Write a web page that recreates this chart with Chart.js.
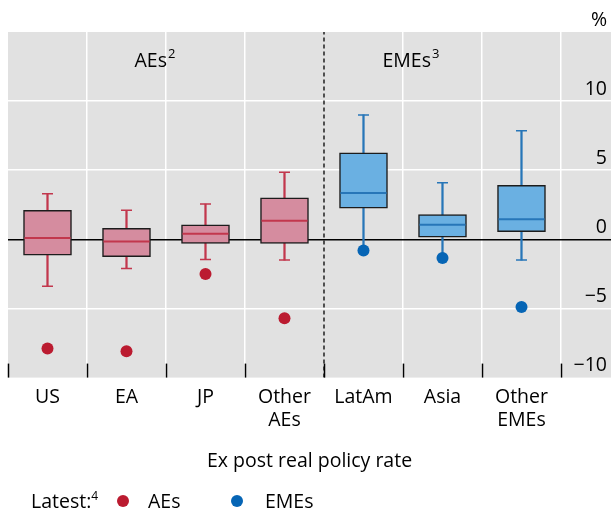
<!DOCTYPE html>
<html>
<head>
<meta charset="utf-8">
<script src="https://cdn.jsdelivr.net/npm/chart.js@4/dist/chart.umd.min.js"></script>
<style>
  html, body { margin: 0; padding: 0; background: #fff; }
  #wrap { position: relative; width: 611px; height: 509px; font-family: 'Open Sans', sans-serif; color: #000; }
  #legend { position: absolute; left: 0; top: 487px; width: 611px; height: 28px; font-size: 19.5px; }
  #legend span { position: absolute; top: 0; line-height: 28px; white-space: nowrap; }
  #legend sup { font-size: 12px; vertical-align: 8px; line-height: 0; }
  #legend .dot { width: 12px; height: 12px; border-radius: 50%; top: 8px; }
</style>
</head>
<body>
<div id="wrap">
  <canvas id="chart" width="611" height="509"></canvas>
  <div id="legend"></div>
</div>
<script>
// categories and the group each one belongs to
const categories = [['US'], ['EA'], ['JP'], ['Other', 'AEs'], ['LatAm'], ['Asia'], ['Other', 'EMEs']];
const groups = ['AE', 'AE', 'AE', 'AE', 'EME', 'EME', 'EME'];
const groupNames = ['AEs', 'EMEs'];
const groupNotes = ['2', '3'];

// box plot values, %
const whiskerHigh = [3.3, 2.1, 2.55, 4.85, 9.0, 4.1, 7.85];
const boxTop = [2.1, 0.8, 1.05, 3.0, 6.25, 1.8, 3.9];
const median = [0.1, -0.15, 0.4, 1.35, 3.35, 1.05, 1.45];
const boxBottom = [-1.15, -1.25, -0.3, -0.3, 2.25, 0.15, 0.55];
const whiskerLow = [-3.4, -2.1, -1.45, -1.5, -0.75, -1.3, -1.5];
const latest = [-7.9, -8.1, -2.5, -5.7, -0.8, -1.35, -4.9];

// y axis
const yMin = -10;
const yMax = 15;
const yStep = 5;

const colors = {
  AE: { fill: '#d58c9f', line: '#c2374d', dot: '#bb1b30' },
  EME: { fill: '#6ab0e2', line: '#2776b8', dot: '#0665b5' }
};
const FONT = "'Open Sans', sans-serif";

const xs = categories.map((c, i) => i + 0.5);
const aeCount = groups.filter(g => g === 'AE').length;
const colOf = key => groups.map(g => colors[g][key]);
const pts = arr => arr.map((v, i) => ({ x: xs[i], y: v }));
const ptsIn = (arr, g) => arr.map((v, i) => ({ x: xs[i], y: v })).filter((p, i) => groups[i] === g);

// group labels, in axis units
const groupLabelAt = [{ x: 1.86, y: 12.5 }, { x: 5.1, y: 12.5 }];

const backdrop = {
  id: 'backdrop',
  beforeDraw(chart) {
    const a = chart.chartArea, ctx = chart.ctx;
    ctx.save();
    ctx.fillStyle = '#e1e1e1';
    ctx.fillRect(a.left, a.top, chart.width - a.left, a.bottom - a.top);
    ctx.restore();
  }
};

// short tick marks that point up into the plot from its bottom edge
const innerTicks = {
  id: 'innerTicks',
  beforeDatasetsDraw(chart) {
    const sx = chart.scales.x, a = chart.chartArea, ctx = chart.ctx;
    ctx.save();
    ctx.strokeStyle = '#000';
    ctx.lineWidth = 1.5;
    sx.ticks.forEach(t => {
      const px = Math.round(sx.getPixelForValue(t.value)) + 0.5;
      ctx.beginPath();
      ctx.moveTo(px, a.bottom - 14);
      ctx.lineTo(px, a.bottom);
      ctx.stroke();
    });
    ctx.restore();
  }
};

const groupLabels = {
  id: 'groupLabels',
  afterDraw(chart) {
    const sx = chart.scales.x, sy = chart.scales.y, ctx = chart.ctx;
    ctx.save();
    ctx.fillStyle = '#000';
    ctx.textBaseline = 'alphabetic';
    groupNames.forEach((name, i) => {
      ctx.font = '19.5px ' + FONT;
      const w1 = ctx.measureText(name).width;
      ctx.font = '13px ' + FONT;
      const w2 = ctx.measureText(groupNotes[i]).width;
      const cx = sx.getPixelForValue(groupLabelAt[i].x);
      const by = sy.getPixelForValue(groupLabelAt[i].y);
      const left = cx - (w1 + w2 + 1) / 2;
      ctx.font = '19.5px ' + FONT;
      ctx.textAlign = 'left';
      ctx.fillText(name, left, by);
      ctx.font = '13px ' + FONT;
      ctx.fillText(groupNotes[i], left + w1 + 1, by - 9);
    });
    ctx.restore();
  }
};

Chart.defaults.font.family = FONT;
Chart.defaults.font.size = 19.5;
Chart.defaults.color = '#000';

new Chart(document.getElementById('chart'), {
  type: 'bar',
  data: {
    datasets: [
      {
        label: 'median',
        type: 'scatter',
        data: pts(median),
        pointStyle: 'line',
        pointRadius: 23,
        borderWidth: 2,
        pointBorderColor: colOf('line'),
        order: 2
      },
      {
        label: 'high',
        type: 'scatter',
        data: pts(whiskerHigh),
        pointStyle: 'line',
        pointRadius: 5.5,
        borderWidth: 1.5,
        pointBorderColor: colOf('line'),
        order: 2
      },
      {
        label: 'low',
        type: 'scatter',
        data: pts(whiskerLow),
        pointStyle: 'line',
        pointRadius: 5.5,
        borderWidth: 1.5,
        pointBorderColor: colOf('line'),
        order: 2
      },
      {
        label: 'stem',
        data: xs.map((x, i) => ({ x: x, y: [whiskerLow[i], whiskerHigh[i]] })),
        backgroundColor: colOf('line'),
        borderWidth: 0,
        barThickness: 1.6,
        grouped: false,
        order: 4
      },
      {
        label: 'box',
        data: xs.map((x, i) => ({ x: x, y: [boxBottom[i], boxTop[i]] })),
        backgroundColor: colOf('fill'),
        borderColor: '#1c1c1c',
        borderWidth: 1.5,
        borderSkipped: false,
        barThickness: 48,
        grouped: false,
        order: 3
      },
      {
        label: 'AEs',
        type: 'scatter',
        data: ptsIn(latest, 'AE'),
        pointStyle: 'circle',
        pointRadius: 6,
        pointBackgroundColor: colors.AE.dot,
        pointBorderWidth: 0,
        order: 1
      },
      {
        label: 'EMEs',
        type: 'scatter',
        data: ptsIn(latest, 'EME'),
        pointStyle: 'circle',
        pointRadius: 6,
        pointBackgroundColor: colors.EME.dot,
        pointBorderWidth: 0,
        order: 1
      },
      {
        label: 'divider',
        type: 'line',
        data: [{ x: aeCount, y: yMin }, { x: aeCount, y: yMax }],
        borderColor: '#000',
        borderWidth: 1.3,
        borderDash: [4, 3],
        pointRadius: 0,
        order: 0
      }
    ]
  },
  options: {
    responsive: false,
    animation: false,
    events: [],
    layout: { autoPadding: false, padding: { left: 8, right: 0, top: 32, bottom: 36 } },
    plugins: { legend: { display: false }, tooltip: { enabled: false } },
    scales: {
      x: {
        type: 'linear',
        offset: false,
        min: 0,
        max: categories.length + 0.633,
        border: { display: false },
        grid: {
          offset: false,
          drawTicks: false,
          lineWidth: 1.5,
          color: ctx => (ctx.tick && ctx.tick.value > 0 && ctx.tick.value !== aeCount) ? '#ffffff' : 'rgba(0,0,0,0)'
        },
        ticks: {
          stepSize: 1,
          includeBounds: false,
          autoSkip: false,
          maxRotation: 0,
          labelOffset: 39.5,
          padding: 8,
          font: { size: 19.5, lineHeight: 1.18 },
          callback: v => categories[v] || ''
        },
        title: {
          display: true,
          text: 'Ex post real policy rate',
          font: { size: 19.5, lineHeight: 1.2 },
          padding: { top: 10, bottom: 0 }
        },
        afterFit: s => { s.paddingLeft = 0; s.paddingRight = 0; }
      },
      y: {
        position: 'right',
        min: yMin,
        max: yMax,
        border: { display: false },
        grid: {
          drawTicks: false,
          lineWidth: 1.5,
          color: ctx => {
            const v = ctx.tick && ctx.tick.value;
            if (v === 0) return '#000';
            if (v === yMin || v === yMax) return 'rgba(0,0,0,0)';
            return '#ffffff';
          }
        },
        ticks: {
          stepSize: yStep,
          mirror: true,
          padding: -4,
          labelOffset: -12,
          font: { size: 19.5 },
          callback: v => v === yMax ? '%' : String(v).replace('-', '\u2212')
        },
        afterFit: s => { s.width = 0; }
      }
    }
  },
  plugins: [backdrop, innerTicks, groupLabels]
});

// legend
const legend = document.getElementById('legend');
legend.innerHTML =
  '<span style="left:31px">Latest:<sup>4</sup></span>' +
  '<span class="dot" style="left:117px;background:' + colors.AE.dot + '"></span>' +
  '<span style="left:148px">AEs</span>' +
  '<span class="dot" style="left:231px;background:' + colors.EME.dot + '"></span>' +
  '<span style="left:265px">EMEs</span>';
</script>
</body>
</html>
